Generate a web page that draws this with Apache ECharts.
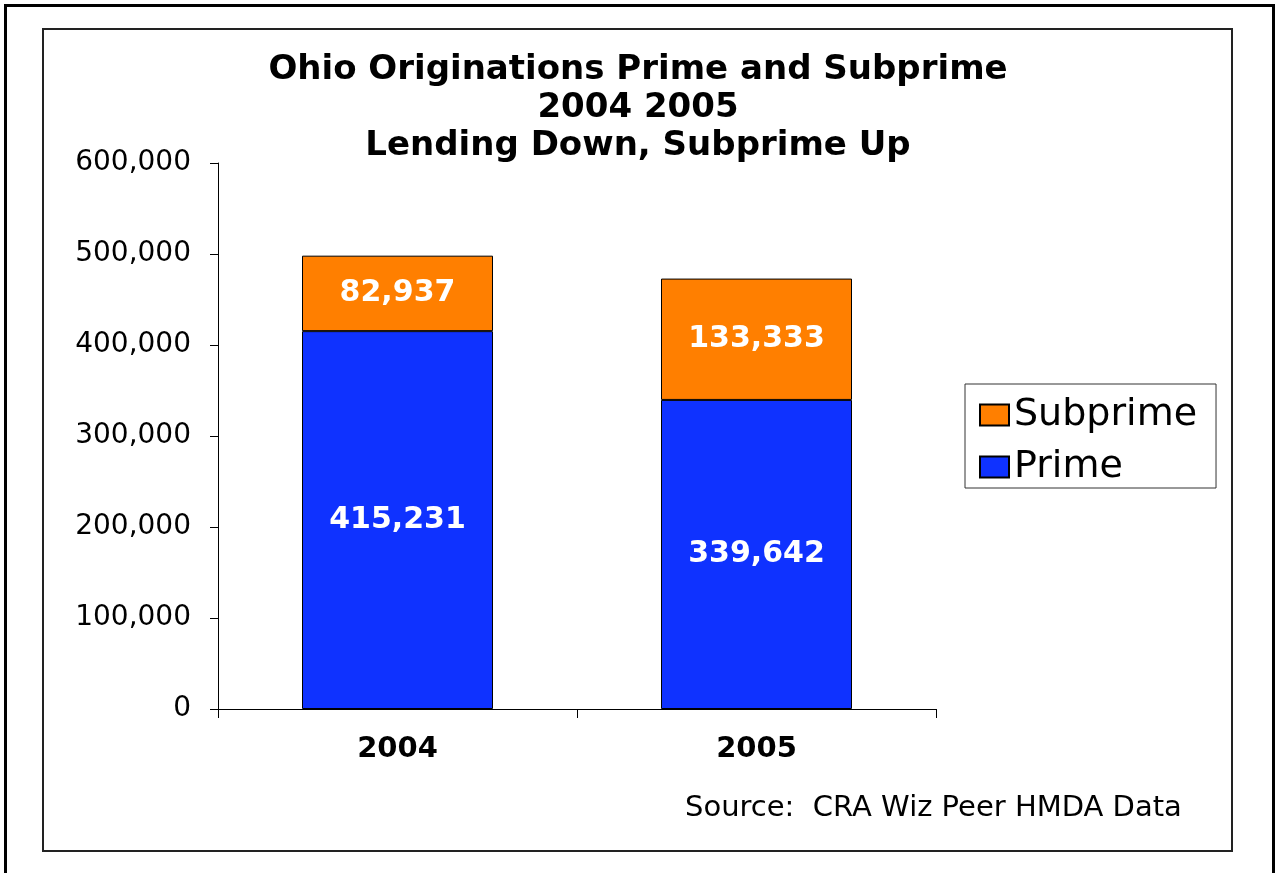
<!DOCTYPE html>
<html>
<head>
<meta charset="utf-8">
<script src="https://cdn.jsdelivr.net/npm/echarts@6/dist/echarts.min.js"></script>
<style>
  html, body { margin: 0; padding: 0; background: #fff; }
  #chart { width: 1276px; height: 873px; }
</style>
</head>
<body>
<div id="chart"></div>
<script>
var categories = ['2004', '2005'];
var primeValues = [415231, 339642];
var subprimeValues = [82937, 133333];
var seriesNames = ['Prime', 'Subprime'];
var titleLines = ['Ohio Originations Prime and Subprime', '2004 2005', 'Lending Down, Subprime Up'];
var sourceText = 'Source:  CRA Wiz Peer HMDA Data';

var FONT = '"DejaVu Sans", "Liberation Sans", Arial, sans-serif';
function fmt(v) {
  return String(v).replace(/\B(?=(\d{3})+(?!\d))/g, ',');
}

var chart = echarts.init(document.getElementById('chart'));
chart.setOption({
  backgroundColor: '#ffffff',
  animation: false,
  title: {
    text: titleLines.join('\n'),
    left: 'center',
    top: 46,
    textStyle: {
      fontFamily: FONT,
      fontSize: 34,
      fontWeight: 'bold',
      color: '#000',
      lineHeight: 38
    }
  },
  legend: {
    data: ['Subprime', 'Prime'],
    orient: 'vertical',
    left: 965,
    top: 384,
    icon: 'rect',
    itemWidth: 29,
    itemHeight: 21,
    itemGap: 14,
    itemTextGap: 20,
    padding: [12, 19, 2, 14],
    borderColor: '#333',
    borderWidth: 1,
    backgroundColor: '#fff',
    textStyle: {
      fontFamily: FONT,
      fontSize: 38,
      color: '#000'
    }
  },
  grid: {
    left: 218,
    right: 340,
    top: 163,
    bottom: 164,
    containLabel: false
  },
  xAxis: {
    type: 'category',
    data: categories,
    axisLine: { lineStyle: { color: '#000', width: 1 } },
    axisTick: { show: true, length: 9, alignWithLabel: false, lineStyle: { color: '#000' } },
    axisLabel: {
      margin: 26,
      fontFamily: FONT,
      fontSize: 29,
      fontWeight: 'bold',
      color: '#000'
    }
  },
  yAxis: {
    type: 'value',
    min: 0,
    max: 600000,
    interval: 100000,
    splitLine: { show: false },
    axisLine: { show: true, lineStyle: { color: '#000', width: 1 } },
    axisTick: { show: true, length: 8, lineStyle: { color: '#000' } },
    axisLabel: {
      margin: 27,
      fontFamily: FONT,
      fontSize: 28,
      color: '#000',
      formatter: function (v) { return fmt(v); }
    }
  },
  series: [
    {
      name: 'Prime',
      type: 'bar',
      stack: 'total',
      barWidth: 191,
      data: primeValues,
      itemStyle: { color: '#0F32FF', borderColor: '#000', borderWidth: 1 },
      label: {
        show: true,
        position: 'inside',
        color: '#fff',
        fontFamily: FONT,
        fontSize: 30,
        fontWeight: 'bold',
        formatter: function (p) { return fmt(p.value); }
      }
    },
    {
      name: 'Subprime',
      type: 'bar',
      stack: 'total',
      barWidth: 191,
      data: subprimeValues,
      itemStyle: { color: '#FF7F00', borderColor: '#000', borderWidth: 1 },
      label: {
        show: true,
        position: 'inside',
        color: '#fff',
        fontFamily: FONT,
        fontSize: 30,
        fontWeight: 'bold',
        formatter: function (p) { return fmt(p.value); }
      }
    }
  ],
  graphic: [
    {
      type: 'rect',
      silent: true,
      z: -10,
      shape: { x: 5.5, y: 5.5, width: 1268, height: 900 },
      style: { fill: 'none', stroke: '#000', lineWidth: 3 }
    },
    {
      type: 'rect',
      silent: true,
      z: -10,
      shape: { x: 43, y: 29, width: 1189, height: 822 },
      style: { fill: 'none', stroke: '#222', lineWidth: 2 }
    },
    {
      type: 'text',
      left: 685,
      top: 794,
      style: {
        text: sourceText,
        fontFamily: FONT,
        fontSize: 29,
        fill: '#000'
      }
    }
  ]
});
</script>
</body>
</html>
